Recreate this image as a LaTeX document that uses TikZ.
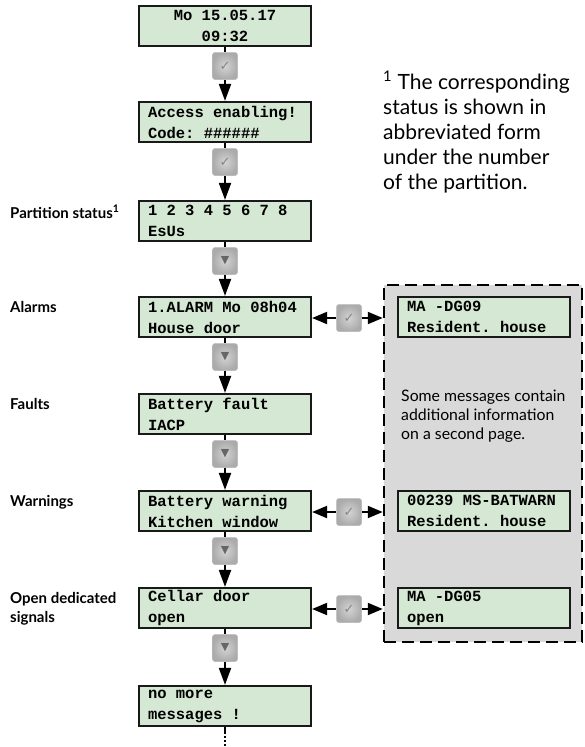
\documentclass[tikz,border=0pt]{standalone}
\usepackage{fontspec}
\setmainfont{Lato}
\setmonofont{Liberation Mono}
\newfontfamily\symfont{DejaVu Sans}
\usetikzlibrary{arrows.meta,shadings}
\definecolor{lcdgreen}{RGB}{213,232,212}
\definecolor{regiongray}{RGB}{217,217,217}
\newcommand{\lcdsp}{\spaceskip=0.6em\relax\xspaceskip=0.6em\relax}
\begin{document}
\begin{tikzpicture}[x=1pt,y=-1pt,
  lcd/.style={draw=black!90, line width=2.2pt, fill=lcdgreen, minimum width=172pt, minimum height=40pt,
    inner sep=0pt, text width=154pt, align=left,
    font={\ttfamily\bfseries\fontsize{15.5}{21}\selectfont\frenchspacing},
    execute at begin node=\lcdsp},
  lcdc/.style={lcd, align=center},
  icon/.style={minimum width=25pt, minimum height=27pt, inner sep=0pt, rounded corners=2.5pt,
    inner color=black!17, outer color=black!33, draw=black!28, line width=0.5pt},
  chk/.style={icon, text=black!48, font={\symfont\fontsize{13}{13}\selectfont}},
  down/.style={icon, text=black!60, font={\symfont\fontsize{11}{11}\selectfont}},
  conn/.style={line width=2pt, draw=black},
  arr/.style={conn, -{Triangle[length=17pt,width=12pt]}},
  lbl/.style={anchor=north west, inner sep=0pt, align=left, font={\bfseries\fontsize{15}{19}\selectfont}},
  region/.style={draw=black, fill=regiongray, line width=2.5pt, dash pattern=on 12pt off 6pt,
    minimum width=198pt, minimum height=357pt, inner sep=0pt}
]
\useasboundingbox (0,0) rectangle (584,747);

% dashed region
\node[region] (reg) at (483,463.5) {};

% main column
\node[lcdc] (b1) at (225,26) {Mo 15.05.17\\09:32};
\node[lcd]  (b2) at (225,122) {Access enabling!\\Code: \#\#\#\#\#\#};
\node[lcd]  (b3) at (225,221) {1 2 3 4 5 6 7 8\\EsUs};
\node[lcd]  (b4) at (225,317) {1.ALARM Mo 08h04\\House door};
\node[lcd]  (b5) at (225,414) {Battery fault\\IACP};
\node[lcd]  (b6) at (225,511) {Battery warning\\Kitchen window};
\node[lcd]  (b7) at (225,608) {Cellar door\\open};
\node[lcd]  (b8) at (225,706) {no more\\messages !};

% icons on the main column
\node[chk]  (i1) at (225,66)  {✓};
\node[chk]  (i2) at (225,162) {✓};
\node[down] (i3) at (225,261) {▼};
\node[down] (i4) at (225,357) {▼};
\node[down] (i5) at (225,454) {▼};
\node[down] (i6) at (225,551) {▼};
\node[down] (i7) at (225,648) {▼};

\foreach \a/\i/\b in {b1/i1/b2,b2/i2/b3,b3/i3/b4,b4/i4/b5,b5/i5/b6,b6/i6/b7,b7/i7/b8}{
  \draw[conn] (\a) -- (\i);
  \draw[arr] (\i) -- (\b);
}

\coordinate (tail) at (225,747);
\draw[line width=2pt, dash pattern=on 7pt off 2pt on 2pt off 2pt on 2pt off 2pt on 2pt off 2pt on 2pt off 2pt on 2pt off 20pt] (b8) -- (tail);

% right boxes
\node[lcd] (r1) at (484,317) {MA -DG09\\Resident. house};
\node[lcd] (r2) at (484,511) {00239 MS-BATWARN\\Resident. house};
\node[lcd] (r3) at (484,608) {MA -DG05\\open};

% horizontal connectors
\node[chk] (h1) at (349,318) {✓};
\node[chk] (h2) at (349,512) {✓};
\node[chk] (h3) at (349,609) {✓};
\coordinate (e1) at (reg.west |- h1);
\coordinate (e2) at (reg.west |- h2);
\coordinate (e3) at (reg.west |- h3);
\draw[conn, {Triangle[length=15pt,width=12pt]}-] (b4.east |- h1) -- (h1);
\draw[conn, -{Triangle[length=15pt,width=12pt]}] (h1) -- (e1);
\draw[conn, {Triangle[length=15pt,width=12pt]}-] (b6.east |- h2) -- (h2);
\draw[conn, -{Triangle[length=15pt,width=12pt]}] (h2) -- (e2);
\draw[conn, {Triangle[length=15pt,width=12pt]}-] (b7.east |- h3) -- (h3);
\draw[conn, -{Triangle[length=15pt,width=12pt]}] (h3) -- (e3);

% region note
\node[anchor=west, inner sep=0pt, align=left, font={\fontsize{15.8}{19}\selectfont}] (note) at (401,416)
  {Some messages contain\\additional information\\on a second page.};

% footnote
\node[anchor=north west, inner sep=0pt, align=left, font={\fontsize{21}{25}\selectfont}] (fn) at (383,71)
  {\textsuperscript{1} The corresponding\\status is shown in\\abbreviated form\\under the number\\of the partition.};

% left labels
\node[lbl] (l3) at (10,205) {Partition status\textsuperscript{1}};
\node[lbl] (l4) at (10,301) {Alarms};
\node[lbl] (l5) at (10,398) {Faults};
\node[lbl] (l6) at (10,495) {Warnings};
\node[lbl] (l7) at (10,592) {Open dedicated\\signals};
\end{tikzpicture}
\end{document}
